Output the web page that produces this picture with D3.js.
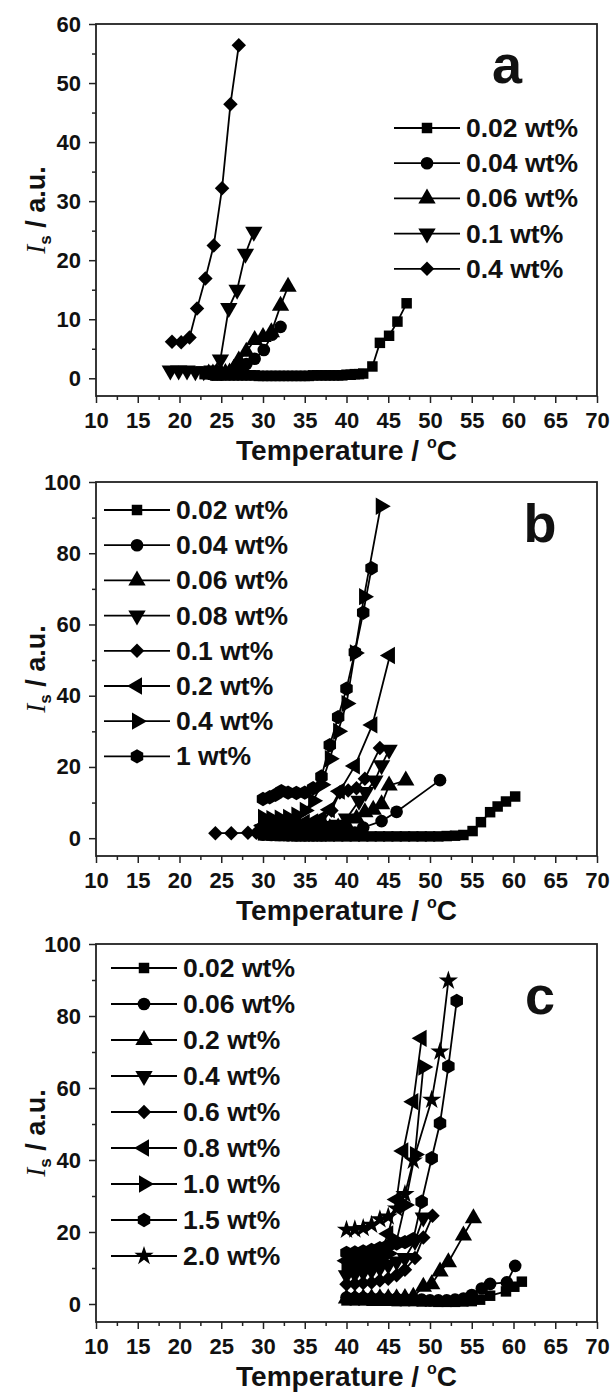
<!DOCTYPE html>
<html>
<head>
<meta charset="utf-8">
<script src="https://cdn.jsdelivr.net/npm/d3@7"></script>
<style>
  body { margin: 0; background: #fff; }
  text { font-family: "Liberation Sans", Arial, sans-serif; font-weight: bold; fill: #111; }
</style>
</head>
<body>
<svg id="fig" width="612" height="1394"></svg>
<script>
// ---- tick values (shared) ----
var xTicks = [10, 15, 20, 25, 30, 35, 40, 45, 50, 55, 60, 65, 70];
var xMinor = [12.5, 17.5, 22.5, 27.5, 32.5, 37.5, 42.5, 47.5, 52.5, 57.5, 62.5, 67.5];
var yTicksA = [0, 10, 20, 30, 40, 50, 60];
var yMinorA = [5, 15, 25, 35, 45, 55];
var yTicksBC = [0, 20, 40, 60, 80, 100];
var yMinorBC = [10, 30, 50, 70, 90];

// ---- panel a ----
var labelsA = ["0.02 wt%", "0.04 wt%", "0.06 wt%", "0.1 wt%", "0.4 wt%"];
var shapesA = ["square", "circle", "up", "down", "diamond"];
var a002T = [23, 23.5, 24, 24.5, 25, 25.5, 26, 26.5, 27, 27.5, 28, 28.5, 29, 29.5, 30, 30.5, 31, 31.5, 32, 32.5, 33, 33.5, 34, 34.5, 35, 35.5, 36, 36.5, 37, 37.5, 38, 38.5, 39, 39.5, 40, 40.5, 41, 41.5, 42, 43.1, 44, 45.1, 46.1, 47.2];
var a002I = [0.7, 0.7, 0.6, 0.6, 0.6, 0.5, 0.5, 0.5, 0.5, 0.5, 0.5, 0.5, 0.5, 0.4, 0.4, 0.4, 0.4, 0.4, 0.4, 0.4, 0.4, 0.4, 0.4, 0.4, 0.4, 0.4, 0.5, 0.5, 0.5, 0.5, 0.5, 0.5, 0.5, 0.5, 0.6, 0.6, 0.7, 0.7, 0.8, 2.0, 6.0, 7.2, 9.6, 12.7];
var a004T = [24, 24.5, 25, 25.5, 26, 26.5, 27, 28, 29, 30.1, 31.1, 32.1];
var a004I = [0.6, 0.6, 0.6, 0.7, 0.8, 1.0, 1.6, 2.4, 3.3, 4.8, 7.4, 8.7];
var a006T = [23.5, 24, 24.5, 25, 25.5, 26, 26.5, 27.1, 28, 29, 30, 31, 32.1, 33];
var a006I = [0.8, 0.8, 0.8, 0.8, 0.9, 1.0, 1.6, 3.0, 4.5, 6.5, 7.0, 7.8, 12.3, 15.5];
var a01T = [18.9, 19.9, 20.9, 21.9, 22.9, 23.9, 24.9, 25.9, 26.9, 27.9, 28.9];
var a01I = [1.3, 1.3, 1.3, 1.2, 1.2, 1.3, 3.2, 11.9, 15.0, 21.1, 24.8];
var a04T = [19.1, 20.2, 21.2, 22.1, 23.1, 24.1, 25.1, 26.1, 27.1];
var a04I = [6.2, 6.1, 6.9, 11.8, 16.9, 22.5, 32.2, 46.4, 56.4];

// ---- panel b ----
var labelsB = ["0.02 wt%", "0.04 wt%", "0.06 wt%", "0.08 wt%", "0.1 wt%", "0.2 wt%", "0.4 wt%", "1 wt%"];
var shapesB = ["square", "circle", "up", "down", "diamond", "left", "right", "hexagon"];
var b002T = [30, 31, 32, 33, 34, 35, 36, 37, 38, 39, 40, 41, 42, 43, 44, 45, 46, 47, 48, 49, 50, 51, 52, 53, 54, 55.1, 56.1, 57.2, 58.1, 59.1, 60.2];
var b002I = [0.8, 0.7, 0.6, 0.6, 0.5, 0.5, 0.5, 0.5, 0.5, 0.5, 0.5, 0.5, 0.5, 0.5, 0.5, 0.5, 0.5, 0.5, 0.5, 0.5, 0.5, 0.5, 0.6, 0.7, 0.9, 2.0, 4.5, 7.3, 8.9, 10.3, 11.7];
var b004T = [30, 31, 32, 33, 34, 35, 36, 37, 38, 39, 40, 41, 42, 44.2, 46, 51.2];
var b004I = [1.0, 0.9, 0.9, 0.8, 0.8, 0.8, 0.8, 0.8, 0.9, 1.0, 1.2, 1.6, 3.0, 4.8, 7.4, 16.3];
var b006T = [30, 31, 32, 33, 34, 35, 36, 37, 38, 39, 40, 41.2, 42.2, 43.2, 44.2, 45.1, 47.1];
var b006I = [2.0, 2.0, 2.0, 2.0, 2.0, 2.1, 2.2, 2.4, 2.8, 3.0, 3.6, 5.5, 7.3, 8.0, 9.5, 14.8, 16.2];
var b008T = [30, 31, 32, 33, 34, 35, 36, 37, 38, 39, 40, 41.5, 42.3, 43.4, 44.2, 45.1];
var b008I = [2.5, 2.5, 2.6, 2.7, 2.8, 3.0, 3.0, 3.2, 3.4, 3.8, 5.5, 10.5, 13.0, 16.2, 20.5, 24.8];
var b01T = [24.3, 26.2, 28.2, 29.2, 30, 31, 32, 33, 34, 35, 36, 37, 38.2, 39.2, 40.2, 41.2, 42.2, 44.0];
var b01I = [1.4, 1.4, 1.5, 1.5, 1.6, 1.6, 1.7, 1.8, 2.0, 2.4, 3.2, 4.5, 7.8, 12.8, 13.4, 14.0, 16.7, 25.3];
var b02T = [30, 31, 32, 33, 34, 35, 36, 37, 38, 39.2, 41, 43.1, 45.2];
var b02I = [3.5, 3.6, 3.8, 4.0, 4.2, 4.4, 4.6, 5.5, 8.0, 13.2, 20.3, 31.8, 51.3];
var b04T = [30, 31, 32, 33, 34, 35, 36, 37, 38, 39, 40, 41, 42.1, 44.1];
var b04I = [5.8, 5.5, 5.6, 5.8, 6.5, 7.8, 10.5, 15.0, 22.3, 30.0, 37.8, 52.0, 67.8, 93.2];
var b1T = [30, 30.8, 31.5, 32.2, 33, 34, 35, 36, 37, 38, 39, 40, 41, 42, 43];
var b1I = [11.0, 11.5, 12.2, 13.2, 12.8, 12.7, 12.8, 14.0, 17.3, 26.1, 34.0, 42.0, 52.2, 63.3, 75.8];

// ---- panel c ----
var labelsC = ["0.02 wt%", "0.06 wt%", "0.2 wt%", "0.4 wt%", "0.6 wt%", "0.8 wt%", "1.0 wt%", "1.5 wt%", "2.0 wt%"];
var shapesC = ["square", "circle", "up", "down", "diamond", "left", "right", "hexagon", "star"];
var c002T = [40, 41, 42, 43, 44, 45, 46, 47, 48, 49, 50, 51, 52, 53, 54, 55, 56, 57.2, 59.1, 60.1, 61.0];
var c002I = [1.0, 1.0, 1.0, 0.9, 0.9, 0.9, 0.8, 0.8, 0.8, 0.7, 0.7, 0.6, 0.6, 0.6, 0.7, 0.8, 1.2, 2.3, 3.5, 4.8, 6.2];
var c006T = [40, 41, 42, 43, 44, 45, 46, 47, 48, 49, 50, 51, 52, 53, 54, 55, 56.2, 57.2, 59.2, 60.2];
var c006I = [1.8, 1.7, 1.7, 1.6, 1.6, 1.5, 1.5, 1.4, 1.3, 1.2, 1.0, 1.0, 1.0, 1.2, 1.5, 2.5, 4.3, 5.6, 6.0, 10.6];
var c02T = [40, 41, 42, 43, 44, 45, 46, 47, 48, 49.2, 50.2, 51.2, 52.2, 54.0, 55.2];
var c02I = [1.5, 1.5, 1.6, 1.6, 1.6, 1.6, 1.6, 1.7, 2.0, 4.8, 5.5, 9.0, 11.6, 19.0, 23.8];
var c04T = [40, 41, 42, 43, 44, 45, 46, 47, 48.2, 49.2];
var c04I = [8.0, 8.4, 8.8, 9.3, 10.0, 10.8, 11.8, 12.8, 17.5, 24.0];
var c06T = [40, 41, 42, 43, 44, 45, 46, 47, 48.2, 49.2, 50.3];
var c06I = [5.5, 5.6, 5.8, 6.0, 6.5, 7.0, 8.0, 9.5, 12.8, 18.5, 24.5];
var c08T = [40, 41, 42, 43, 44, 45, 46, 46.8, 48, 49];
var c08I = [12.0, 12.3, 12.7, 13.2, 14.0, 19.5, 29.0, 42.5, 56.2, 73.8];
var c10T = [40, 41, 42, 43, 44, 45, 46, 47, 48.2, 49.2];
var c10I = [10.5, 10.8, 11.2, 11.8, 12.5, 14.0, 17.5, 27.5, 41.5, 65.8];
var c15T = [40, 41, 42, 43, 44, 45, 46, 47, 48, 49, 50.2, 51.2, 52.2, 53.2];
var c15I = [14.2, 14.3, 14.6, 15.0, 15.5, 16.2, 16.8, 17.2, 18.0, 28.4, 40.5, 50.2, 66.0, 84.2];
var c20T = [40, 41, 42, 43, 44, 45, 46, 47, 48, 50.2, 51.2, 52.2];
var c20I = [20.6, 20.7, 21.1, 22.0, 23.5, 24.3, 26.5, 30.5, 39.8, 56.7, 70.1, 89.8];

function zipSeries(labels, shapes, Ts, Is) {
  return labels.map(function(l, i) {
    return { label: l, shape: shapes[i], pts: Ts[i].map(function(t, j) { return [t, Is[i][j]]; }) };
  });
}

var panels = [
  { letter: "a", top: 24, bottom: 396, yDomain: [-3, 60], yTicks: yTicksA, yMinor: yMinorA,
    legX: 427, legY: 128, legDy: 35.2, letterX: 507, letterY: 83,
    series: zipSeries(labelsA, shapesA, [a002T, a004T, a006T, a01T, a04T], [a002I, a004I, a006I, a01I, a04I]) },
  { letter: "b", top: 482, bottom: 856, yDomain: [-5, 100], yTicks: yTicksBC, yMinor: yMinorBC,
    legX: 137, legY: 510, legDy: 35.2, letterX: 540, letterY: 542,
    series: zipSeries(labelsB, shapesB, [b002T, b004T, b006T, b008T, b01T, b02T, b04T, b1T], [b002I, b004I, b006I, b008I, b01I, b02I, b04I, b1I]) },
  { letter: "c", top: 944, bottom: 1322, yDomain: [-5, 100], yTicks: yTicksBC, yMinor: yMinorBC,
    legX: 144, legY: 968, legDy: 36, letterX: 540, letterY: 1014,
    series: zipSeries(labelsC, shapesC, [c002T, c006T, c02T, c04T, c06T, c08T, c10T, c15T, c20T], [c002I, c006I, c02I, c04I, c06I, c08I, c10I, c15I, c20I]) }
];

var left = 96, right = 597;
var svg = d3.select("#fig");

// marker shapes
var hexPath = (function() {
  var r = 7.2, p = d3.path();
  for (var k = 0; k < 6; k++) {
    var a = Math.PI / 2 + k * Math.PI / 3;
    if (k === 0) p.moveTo(r * Math.cos(a), r * Math.sin(a)); else p.lineTo(r * Math.cos(a), r * Math.sin(a));
  }
  p.closePath();
  return p.toString();
})();
var tri = d3.symbol(d3.symbolTriangle, 130)();
var shapeDefs = {
  square:  { d: d3.symbol(d3.symbolSquare, 110)(), rot: 0 },
  circle:  { d: d3.symbol(d3.symbolCircle, 125)(), rot: 0 },
  up:      { d: tri, rot: 0 },
  down:    { d: tri, rot: 180 },
  left:    { d: tri, rot: -90 },
  right:   { d: tri, rot: 90 },
  diamond: { d: d3.symbol(d3.symbolSquare, 105)(), rot: 45 },
  hexagon: { d: hexPath, rot: 0 },
  star:    { d: d3.symbol(d3.symbolStar, 115)(), rot: 0 }
};

function drawMarker(g, shape, px, py) {
  var s = shapeDefs[shape];
  g.append("path").attr("d", s.d).attr("fill", "#000")
    .attr("transform", "translate(" + px + "," + py + ") rotate(" + s.rot + ")");
}

panels.forEach(function(p) {
  var x = d3.scaleLinear().domain([10, 70]).range([left, right]);
  var y = d3.scaleLinear().domain(p.yDomain).range([p.bottom, p.top]);
  var g = svg.append("g");

  // axes
  g.append("g").attr("transform", "translate(0," + p.bottom + ")")
    .call(d3.axisBottom(x).tickValues(xTicks).tickSize(7).tickPadding(9).tickFormat(d3.format("d")));
  g.append("g").attr("transform", "translate(0," + p.bottom + ")")
    .call(d3.axisBottom(x).tickValues(xMinor).tickSize(4).tickFormat(""));
  g.append("g").attr("transform", "translate(" + left + ",0)")
    .call(d3.axisLeft(y).tickValues(p.yTicks).tickSize(7).tickPadding(8).tickFormat(d3.format("d")));
  g.append("g").attr("transform", "translate(" + left + ",0)")
    .call(d3.axisLeft(y).tickValues(p.yMinor).tickSize(4).tickFormat(""));
  g.selectAll(".domain").remove();
  g.selectAll(".tick line").attr("stroke", "#222").attr("stroke-width", 1.5);
  g.selectAll(".tick text").attr("font-size", 22).attr("font-family", "Liberation Sans, Arial, sans-serif")
    .attr("font-weight", "bold").attr("fill", "#111");

  // frame
  g.append("rect").attr("x", left).attr("y", p.top).attr("width", right - left).attr("height", p.bottom - p.top)
    .attr("fill", "none").attr("stroke", "#222").attr("stroke-width", 1.8);

  // series
  var line = d3.line().x(function(d) { return x(d[0]); }).y(function(d) { return y(d[1]); });
  p.series.forEach(function(s) {
    g.append("path").attr("d", line(s.pts)).attr("fill", "none").attr("stroke", "#000").attr("stroke-width", 1.8);
  });
  p.series.forEach(function(s) {
    s.pts.forEach(function(d) { drawMarker(g, s.shape, x(d[0]), y(d[1])); });
  });

  // legend
  p.series.forEach(function(s, i) {
    var ly = p.legY + i * p.legDy;
    g.append("line").attr("x1", p.legX - 33).attr("x2", p.legX + 33).attr("y1", ly).attr("y2", ly)
      .attr("stroke", "#000").attr("stroke-width", 1.8);
    drawMarker(g, s.shape, p.legX, ly);
    g.append("text").attr("x", p.legX + 39).attr("y", ly + 9).attr("font-size", 26.5).text(s.label);
  });

  // panel letter
  g.append("text").attr("x", p.letterX).attr("y", p.letterY).attr("text-anchor", "middle")
    .attr("font-size", 54).text(p.letter);

  // x title
  var xt = g.append("text").attr("x", (left + right) / 2).attr("y", p.bottom + 64).attr("text-anchor", "middle")
    .attr("font-size", 28);
  xt.append("tspan").text("Temperature / ");
  xt.append("tspan").attr("font-size", 16).attr("dy", -12).text("o");
  xt.append("tspan").attr("dy", 12).text("C");

  // y title
  var yt = g.append("text").attr("transform", "translate(45," + (p.top + p.bottom) / 2 + ") rotate(-90)")
    .attr("text-anchor", "middle").attr("font-size", 27);
  yt.append("tspan").attr("font-family", "Liberation Serif, Times New Roman, serif").attr("font-style", "italic")
    .attr("font-weight", "normal").text("I");
  yt.append("tspan").attr("font-size", 17).attr("dy", 6).text("s");
  yt.append("tspan").attr("dy", -6).text(" / a.u.");
});
</script>
</body>
</html>
